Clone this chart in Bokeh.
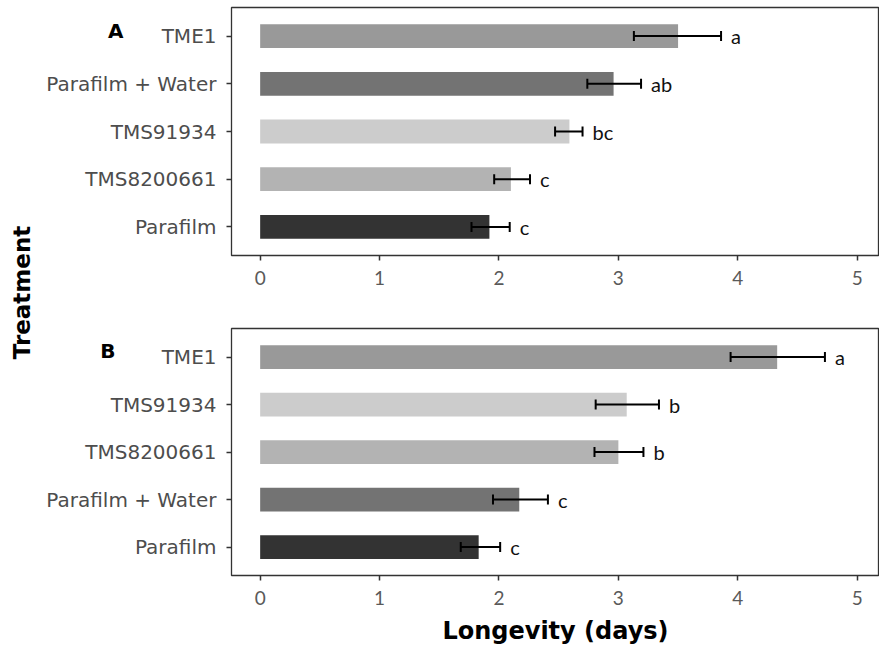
import math
from bokeh.plotting import figure
from bokeh.models import (ColumnDataSource, FactorRange, Range1d, Whisker, TeeHead,
                          FixedTicker)
from bokeh.layouts import row, column
from bokeh.core.properties import value
from bokeh.embed import file_html
from bokeh.resources import INLINE

# ---------------- data ----------------
a_treatments = ["TME1", "Parafilm + Water", "TMS91934", "TMS8200661", "Parafilm"]
a_mean = [3.50, 2.96, 2.59, 2.10, 1.92]
a_lo = [3.13, 2.74, 2.47, 1.96, 1.77]
a_hi = [3.86, 3.19, 2.70, 2.26, 2.09]
a_letters = ["a", "ab", "bc", "c", "c"]

b_treatments = ["TME1", "TMS91934", "TMS8200661", "Parafilm + Water", "Parafilm"]
b_mean = [4.33, 3.07, 3.00, 2.17, 1.83]
b_lo = [3.94, 2.81, 2.80, 1.95, 1.68]
b_hi = [4.73, 3.34, 3.21, 2.41, 2.01]
b_letters = ["a", "b", "b", "c", "c"]

treatment_colors = {
    "TME1": "#999999",
    "Parafilm + Water": "#737373",
    "TMS91934": "#cccccc",
    "TMS8200661": "#b3b3b3",
    "Parafilm": "#333333",
}
x_ticks = [0, 1, 2, 3, 4, 5]
panel_tags = ["A", "B"]


def make_panel(treats, mean, lo, hi, letters, tag, tag_standoff, height, top, bottom,
               xlabel=None):
    src = ColumnDataSource(dict(cat=treats, mean=mean, lo=lo, hi=hi, letter=letters,
                                color=[treatment_colors[t] for t in treats]))
    yr = FactorRange(factors=list(reversed(treats)), range_padding=0.1,
                     range_padding_units="absolute")
    p = figure(width=841, height=height, y_range=yr, x_range=Range1d(-0.24, 5.187),
               output_backend="svg", toolbar_location=None,
               min_border_left=193, min_border_right=0,
               min_border_top=top, min_border_bottom=bottom)
    p.hbar(y="cat", left=0, right="mean", height=0.5, fill_color="color",
           line_color=None, source=src)
    w = Whisker(base="cat", lower="lo", upper="hi", dimension="width", source=src,
                line_color="black", line_width=2, level="overlay",
                upper_head=TeeHead(size=10, line_color="black", line_width=2),
                lower_head=TeeHead(size=10, line_color="black", line_width=2))
    p.add_layout(w)
    p.text(x="hi", y="cat", text="letter", source=src, x_offset=10,
           text_font=value("Lato"), text_font_size="20px", text_align="left",
           text_baseline="middle", text_color="#111111")
    # panel tag as a horizontal y-axis label, lifted to the top row by filler lines
    p.yaxis.axis_label = tag + "\n\u00a0" * 7
    p.yaxis.axis_label_orientation = "horizontal"
    p.yaxis.axis_label_standoff = tag_standoff
    p.yaxis.axis_label_text_font = "DejaVu Sans"
    p.yaxis.axis_label_text_font_style = "bold"
    p.yaxis.axis_label_text_font_size = "20px"
    p.yaxis.axis_label_text_line_height = 1.2
    p.yaxis.axis_label_text_color = "#000000"

    p.xgrid.visible = False
    p.ygrid.visible = False
    p.outline_line_color = "#333333"
    p.outline_line_width = 1.3
    p.outline_line_alpha = 1.0

    p.xaxis.ticker = FixedTicker(ticks=x_ticks)
    p.axis.axis_line_color = None
    p.axis.major_tick_line_color = "#333333"
    p.axis.major_tick_line_width = 1.5
    p.axis.major_tick_out = 5
    p.axis.major_tick_in = 0
    p.axis.minor_tick_line_color = None

    p.yaxis.major_label_text_font = "DejaVu Sans"
    p.yaxis.major_label_text_font_size = "20px"
    p.yaxis.major_label_text_color = "#4d4d4d"
    p.yaxis.major_label_standoff = 10

    p.xaxis.major_label_text_font = "Lato"
    p.xaxis.major_label_text_font_size = "19px"
    p.xaxis.major_label_text_color = "#5a5a5a"
    p.xaxis.major_label_standoff = 10
    if xlabel:
        p.xaxis.axis_label = xlabel
        p.xaxis.axis_label_text_font = "DejaVu Sans"
        p.xaxis.axis_label_text_font_style = "bold"
        p.xaxis.axis_label_text_font_size = "24px"
        p.xaxis.axis_label_text_color = "#000000"
        p.xaxis.axis_label_standoff = 9
    return p


p1 = make_panel(a_treatments, a_mean, a_lo, a_hi, a_letters, panel_tags[0], -80,
                height=318, top=7, bottom=63)
p2 = make_panel(b_treatments, b_mean, b_lo, b_hi, b_letters, panel_tags[1], -72,
                height=329, top=10, bottom=71, xlabel="Longevity (days)")

strip = figure(width=38, height=647, x_range=Range1d(0, 38), y_range=Range1d(0, 647),
               output_backend="svg", toolbar_location=None, min_border=0,
               x_axis_type=None, y_axis_type=None)
strip.outline_line_color = None
strip.xgrid.visible = False
strip.ygrid.visible = False
strip.text(x=[21], y=[355], text=["Treatment"], angle=math.pi / 2,
           text_font=value("DejaVu Sans"), text_font_style="bold",
           text_font_size="23px", text_align="center", text_baseline="middle",
           text_color="#000000")

layout = row(strip, column(p1, p2))

open("out.html", "w").write(file_html(layout, INLINE))
